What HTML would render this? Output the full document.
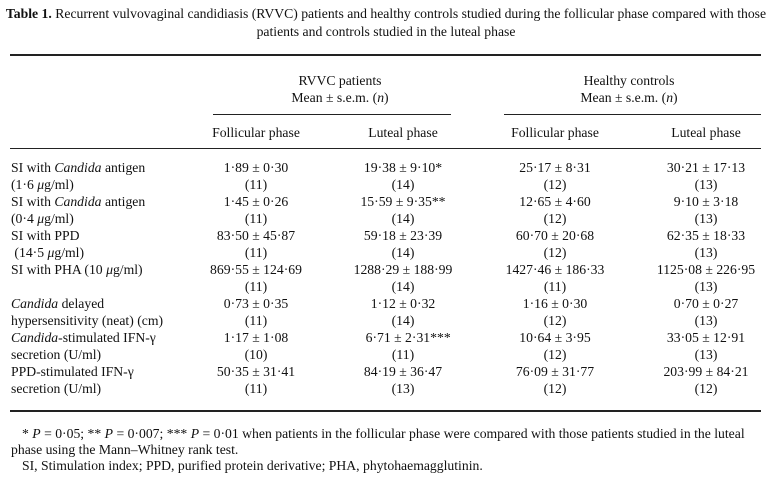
<!DOCTYPE html>
<html><head><meta charset="utf-8">
<style>
body{margin:0;width:772px;height:479px;background:#fff;overflow:hidden;font-family:"Liberation Serif",serif;font-size:13.7px;color:#111;}
.t{position:absolute;white-space:nowrap;line-height:15px;}
.c{transform:translateX(-50%);}
.r{position:absolute;background:#222;}
i{font-style:italic;}
</style></head><body>
<div id="root">
<div class="t c" style="left:386px;top:6px;"><b>Table 1.</b> Recurrent vulvovaginal candidiasis (RVVC) patients and healthy controls studied during the follicular phase compared with those</div>
<div class="t c" style="left:386px;top:24px;">patients and controls studied in the luteal phase</div>
<div class="r" style="left:10px;top:54px;width:751px;height:2px;"></div>
<div class="t c" style="left:340px;top:73px;">RVVC patients</div>
<div class="t c" style="left:340px;top:90px;">Mean ± s.e.m. (<i>n</i>)</div>
<div class="t c" style="left:629px;top:73px;">Healthy controls</div>
<div class="t c" style="left:629px;top:90px;">Mean ± s.e.m. (<i>n</i>)</div>
<div class="r" style="left:213px;top:114px;width:238px;height:1px;"></div>
<div class="r" style="left:504px;top:114px;width:257px;height:1px;"></div>
<div class="t c" style="left:256px;top:125px;">Follicular phase</div>
<div class="t c" style="left:403px;top:125px;">Luteal phase</div>
<div class="t c" style="left:555px;top:125px;">Follicular phase</div>
<div class="t c" style="left:706px;top:125px;">Luteal phase</div>
<div class="r" style="left:10px;top:148px;width:751px;height:1px;"></div>
<div id="body"></div>
<div class="r" style="left:10px;top:410px;width:751px;height:2px;"></div>
<div class="t" style="left:22px;top:426px;">* <i>P</i> = 0·05; ** <i>P</i> = 0·007; *** <i>P</i> = 0·01 when patients in the follicular phase were compared with those patients studied in the luteal</div>
<div class="t" style="left:11px;top:442px;">phase using the Mann–Whitney rank test.</div>
<div class="t" style="left:22px;top:458px;">SI, Stimulation index; PPD, purified protein derivative; PHA, phytohaemagglutinin.</div>
</div>
<script>
const labels1=["SI with <i>Candida</i> antigen","SI with <i>Candida</i> antigen","SI with PPD","SI with PHA (10 <i>μ</i>g/ml)","<i>Candida</i> delayed","<i>Candida</i>-stimulated IFN-γ","PPD-stimulated IFN-γ"];
const labels2=["(1·6 <i>μ</i>g/ml)","(0·4 <i>μ</i>g/ml)","&nbsp;(14·5 <i>μ</i>g/ml)","","hypersensitivity (neat) (cm)","secretion (U/ml)","secretion (U/ml)"];
const rvvcFol=["1·89 ± 0·30","1·45 ± 0·26","83·50 ± 45·87","869·55 ± 124·69","0·73 ± 0·35","1·17 ± 1·08","50·35 ± 31·41"];
const rvvcLut=["19·38 ± 9·10*","15·59 ± 9·35**","59·18 ± 23·39","1288·29 ± 188·99","1·12 ± 0·32","&nbsp;&nbsp;&nbsp;6·71 ± 2·31***","84·19 ± 36·47"];
const hcFol=["25·17 ± 8·31","12·65 ± 4·60","60·70 ± 20·68","1427·46 ± 186·33","1·16 ± 0·30","10·64 ± 3·95","76·09 ± 31·77"];
const hcLut=["30·21 ± 17·13","9·10 ± 3·18","62·35 ± 18·33","1125·08 ± 226·95","0·70 ± 0·27","33·05 ± 12·91","203·99 ± 84·21"];
const nRvvcFol=[11,11,11,11,11,10,11];
const nRvvcLut=[14,14,14,14,14,11,13];
const nHcFol=[12,12,12,11,12,12,12];
const nHcLut=[13,13,13,13,13,13,12];
const body=document.getElementById('body');
function add(html,x,y,center){
  const d=document.createElement('div');
  d.className='t'+(center?' c':'');
  d.style.left=x+'px';d.style.top=y+'px';
  d.innerHTML=html;body.appendChild(d);return d;
}
for(let i=0;i<labels1.length;i++){
  const y1=160+i*34,y2=y1+17;
  let e;
  e=add(labels1[i],11,y1,false);
  
  
  e=add(labels2[i],11,y2,false);
  
  
  const cols=[[256,rvvcFol,nRvvcFol],[403,rvvcLut,nRvvcLut],[555,hcFol,nHcFol],[706,hcLut,nHcLut]];
  for(const [x,v,n] of cols){
    e=add(v[i],x,y1,true);
    
    
    e=add('('+n[i]+')',x,y2,true);
    
    
  }
}
</script>
</body></html>
